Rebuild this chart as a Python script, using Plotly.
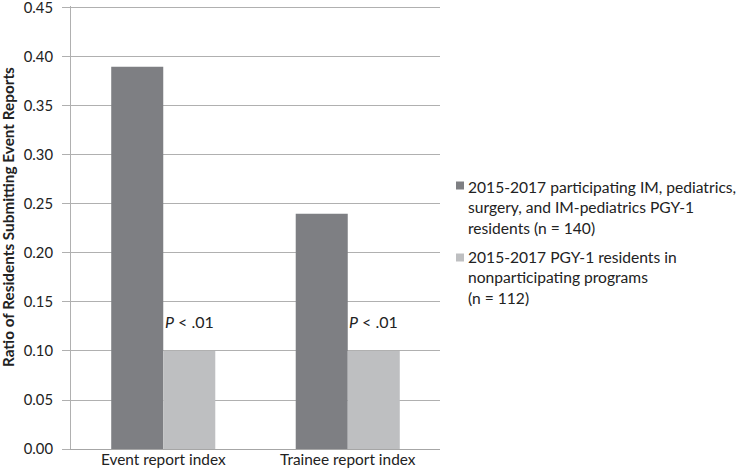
import plotly.graph_objects as go

categories = ["Event report index", "Trainee report index"]
participating = [0.39, 0.24]
nonparticipating = [0.10, 0.10]
series_names = [
    "2015-2017 participating IM, pediatrics,<br>surgery, and IM-pediatrics PGY-1<br>residents (n = 140)",
    "2015-2017 PGY-1 residents in<br>nonparticipating programs<br>(n = 112)",
]
series_colors = ["#7e7f83", "#bebfc1"]
p_labels = ["<i>P</i> < .01", "<i>P</i> < .01"]
p_y = [0.13, 0.13]
y_ticks = [0.00, 0.05, 0.10, 0.15, 0.20, 0.25, 0.30, 0.35, 0.40, 0.45]
y_title = "<b>Ratio of Residents Submitting Event Reports</b>"

FONT = "Lato"
TXT = "#222"

# plot-area geometry (pixels) used to place legend items in paper coords
L, R_, T, B = 71, 296, 6, 19
W, H = 736 - L - R_, 468 - T - B


def px_x(p):
    return (p - L) / W


def px_y(p):
    return (468 - B - p) / H


fig = go.Figure()
for name, vals, col in zip(series_names, [participating, nonparticipating], series_colors):
    fig.add_trace(go.Bar(x=categories, y=vals, name=name.replace("<br>", " "),
                         marker=dict(color=col, line=dict(width=0)), showlegend=False))

for c, t, yv in zip(categories, p_labels, p_y):
    fig.add_annotation(x=c, y=yv, text=t, showarrow=False, xref="x", yref="y",
                       xshift=26, font=dict(family=FONT, size=16, color=TXT))

fig.add_annotation(x=px_x(8), y=px_y(217), xref="paper", yref="paper", text=y_title,
                   textangle=-90, showarrow=False, xanchor="center", yanchor="middle",
                   font=dict(family=FONT, size=15.3, color=TXT))

# legend (square + multi-line label), positioned like the reference
legend_mid_y = [207, 277]
legend_sq_y = [185.5, 257.5]
for name, col, my, sy in zip(series_names, series_colors, legend_mid_y, legend_sq_y):
    fig.add_shape(type="rect", xref="paper", yref="paper",
                  x0=px_x(456), x1=px_x(464), y0=px_y(sy + 4), y1=px_y(sy - 4),
                  fillcolor=col, line=dict(width=0))
    fig.add_annotation(x=px_x(466), y=px_y(my), xref="paper", yref="paper", text=name,
                       showarrow=False, xanchor="left", yanchor="middle", align="left",
                       font=dict(family=FONT, size=15.6, color=TXT))

fig.update_layout(
    width=736, height=468, autosize=False,
    margin=dict(l=L, r=R_, t=T, b=B, autoexpand=False),
    paper_bgcolor="white", plot_bgcolor="white",
    barmode="group", bargap=0.436, bargroupgap=0,
    font=dict(family=FONT, size=15, color=TXT),
    showlegend=False,
)
fig.update_xaxes(showline=True, linecolor="#a6a6a6", linewidth=1, ticks="",
                 tickfont=dict(family=FONT, size=15.4, color=TXT), showgrid=False,
                 automargin=False, ticklabeloverflow="allow", ticklabelstandoff=-3)
fig.update_yaxes(range=[0, 0.452], tickvals=y_ticks,
                 ticktext=[f"{v:.2f}" for v in y_ticks],
                 showgrid=True, gridcolor="#b0b0b0", gridwidth=1,
                 showline=True, linecolor="#b0b0b0", linewidth=1,
                 ticks="outside", ticklen=8, tickcolor="#b0b0b0",
                 tickfont=dict(family=FONT, size=14.8, color=TXT), ticklabelstandoff=6,
                 automargin=False, zeroline=False, ticklabeloverflow="allow")

fig.write_html("out.html", config={"displayModeBar": False},
               post_script="document.body.style.margin='0';document.body.style.overflow='hidden';")
